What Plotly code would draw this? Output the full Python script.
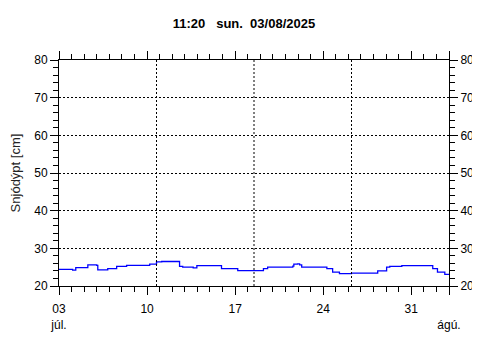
import plotly.graph_objects as go

times = [
    "2025-07-03 00:00", "2025-07-04 00:00", "2025-07-04 02:00", "2025-07-04 08:00",
    "2025-07-05 01:00", "2025-07-05 07:00", "2025-07-06 00:00", "2025-07-06 02:00",
    "2025-07-06 21:00", "2025-07-07 14:00", "2025-07-08 09:00", "2025-07-10 05:00",
    "2025-07-10 14:00", "2025-07-10 18:00", "2025-07-11 04:00", "2025-07-12 10:00",
    "2025-07-12 14:00", "2025-07-12 20:00", "2025-07-13 13:00", "2025-07-13 16:00",
    "2025-07-13 23:00", "2025-07-15 15:00", "2025-07-15 22:00", "2025-07-16 23:00",
    "2025-07-17 05:00", "2025-07-19 02:00", "2025-07-19 06:00", "2025-07-19 14:00",
    "2025-07-20 17:00", "2025-07-21 14:00", "2025-07-21 16:00", "2025-07-21 23:00",
    "2025-07-22 03:00", "2025-07-22 07:00", "2025-07-24 07:00", "2025-07-24 18:00",
    "2025-07-25 07:00", "2025-07-26 06:00", "2025-07-28 08:00", "2025-07-29 01:00",
    "2025-07-29 07:00", "2025-07-30 06:00", "2025-08-01 17:00", "2025-08-02 02:00",
    "2025-08-02 16:00", "2025-08-03 02:00",
]
snow_cm = [
    24.4, 24.4, 24.2, 24.9,
    24.9, 25.6, 25.5, 24.3,
    24.6, 25.2, 25.5, 25.8,
    25.8, 26.4, 26.5, 26.5,
    25.2, 25.0, 25.0, 24.8,
    25.4, 25.4, 24.6, 24.6,
    24.1, 24.1, 24.6, 25.0,
    25.0, 25.3, 25.8, 25.9,
    25.6, 25.0, 24.6, 23.7,
    23.3, 23.4, 24.0, 25.0,
    25.2, 25.4, 24.6, 23.7,
    23.1, 23.1,
]

x_range = ["2025-07-03 00:00", "2025-08-03 00:00"]
x_tickvals = ["2025-07-03", "2025-07-10", "2025-07-17", "2025-07-24", "2025-07-31", "2025-08-03"]
x_ticktext = ["03<br>júl.", "10", "17", "24", "31", "<br>ágú."]
y_range = [20, 80]
title_text = "11:20\u00a0\u00a0\u00a0sun.\u00a0\u00a003/08/2025"
y_title = "Snjódýpt [cm]"

font = dict(family="Liberation Sans, Arial, sans-serif", size=12, color="black")
dots = "2px,2px"

fig = go.Figure()
fig.add_trace(go.Scatter(x=times, y=snow_cm, mode="lines", line=dict(color="#0000FF", width=1.3, shape="hv"),
                         showlegend=False, hoverinfo="skip"))
# invisible trace on secondary axes
fig.add_trace(go.Scatter(x=times[:1], y=snow_cm[:1], xaxis="x2", yaxis="y2", mode="markers",
                         marker=dict(opacity=0), showlegend=False, hoverinfo="skip"))

minor_x = dict(dtick=86400000, ticks="outside", ticklen=5, tickcolor="black", showgrid=False)
fig.update_layout(
    width=472, height=352, autosize=False,
    margin=dict(l=51, r=31, t=52, b=74),
    paper_bgcolor="white", plot_bgcolor="white",
    font=font,
    title=dict(text="<b>" + title_text + "</b>", x=0.5, xanchor="center", y=0.957, yanchor="middle",
               font=dict(family="Liberation Sans, Arial, sans-serif", size=13, color="black")),
    xaxis=dict(type="date", range=x_range, tickmode="array", tickvals=x_tickvals, ticktext=x_ticktext,
               ticks="outside", ticklen=8, tickcolor="black", showline=True, linecolor="black", linewidth=1,
               showgrid=False, zeroline=False, minor=minor_x, tickfont=font, ticklabelstandoff=4,
               automargin=False),
    xaxis2=dict(type="date", range=x_range, overlaying="x", side="top", tickmode="array",
                tickvals=x_tickvals, showticklabels=False, ticks="outside", ticklen=8, tickcolor="black",
                showline=True, linecolor="black", linewidth=1, showgrid=False, zeroline=False, minor=minor_x,
                automargin=False),
    yaxis=dict(range=y_range, dtick=10, ticks="outside", ticklen=8, tickcolor="black",
               showline=True, linecolor="black", linewidth=1, zeroline=False,
               showgrid=True, gridcolor="black", gridwidth=1, griddash=dots,
               minor=dict(dtick=2, ticks="outside", ticklen=5, tickcolor="black", showgrid=False),
               title=dict(text=y_title, standoff=10, font=dict(family="Liberation Sans, Arial, sans-serif", size=13, color="#222222")),
               tickfont=font, automargin=False),
    yaxis2=dict(range=y_range, dtick=10, overlaying="y", side="right", ticks="outside", ticklen=8,
                tickcolor="black", showline=True, linecolor="black", linewidth=1, zeroline=False,
                showgrid=False, minor=dict(dtick=2, ticks="outside", ticklen=5, tickcolor="black", showgrid=False),
                tickfont=font, automargin=False),
)
for fx in (0.25, 0.5, 0.75):
    fig.add_shape(type="line", xref="paper", yref="paper", x0=fx, x1=fx, y0=0, y1=1,
                  line=dict(color="black", width=1, dash=dots))

fig.write_html("out.html")
